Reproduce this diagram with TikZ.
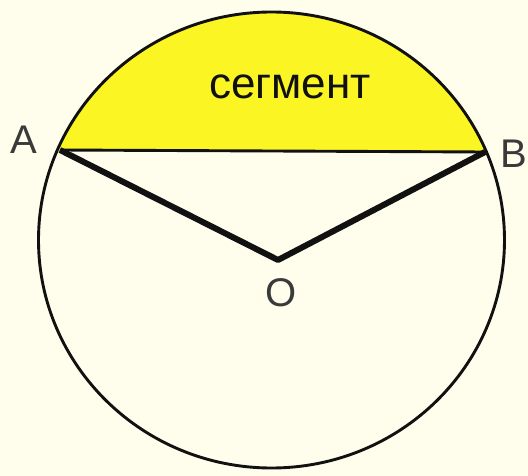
\documentclass[tikz,border=0pt]{standalone}
\usepackage{fontspec}
\setmainfont{Liberation Sans}
\definecolor{paper}{HTML}{FFFEEC}
\definecolor{segfill}{HTML}{FAF523}
\definecolor{ink}{HTML}{111111}
\definecolor{lettergray}{HTML}{3A3A3A}
\tikzset{
  rim/.style={draw=ink,line width=2.9pt},
  chordline/.style={draw=ink,line width=2.9pt},
  radiusline/.style={draw=ink,line width=6pt,line join=round},
  ptlabel/.style={font=\fontsize{40}{44}\selectfont,text=lettergray,inner sep=0pt},
  seglabel/.style={font=\fontsize{44}{48}\selectfont,text=ink,inner sep=0pt},
}
\begin{document}
\begin{tikzpicture}[x=1pt,y=-1pt]
  \fill[paper] (0,0) rectangle (528,476);
  \useasboundingbox (0,0) rectangle (528,476);
  \coordinate (c) at (271.5,240);
  \coordinate (A) at (60,150);
  \coordinate (B) at (485,152);
  \coordinate (O) at (278,260);

  % segment cut off by the chord AB
  \begin{scope}
    \clip (A) -- (B) -- (528,0) -- (0,0) -- cycle;
    \fill[segfill] (c) ellipse [x radius=233,y radius=228];
  \end{scope}
  \draw[chordline] (A) -- (B);
  \draw[radiusline] (A) -- (O) -- (B);
  \draw[rim] (c) ellipse [x radius=233,y radius=228];

  \node[seglabel] (seg) at (290,87) {сегмент};
  \node[ptlabel] (lA) at (24,140) {A};
  \node[ptlabel] (lB) at (514,154) {B};
  \node[ptlabel] (lO) at (281,293) {O};
\end{tikzpicture}
\end{document}
